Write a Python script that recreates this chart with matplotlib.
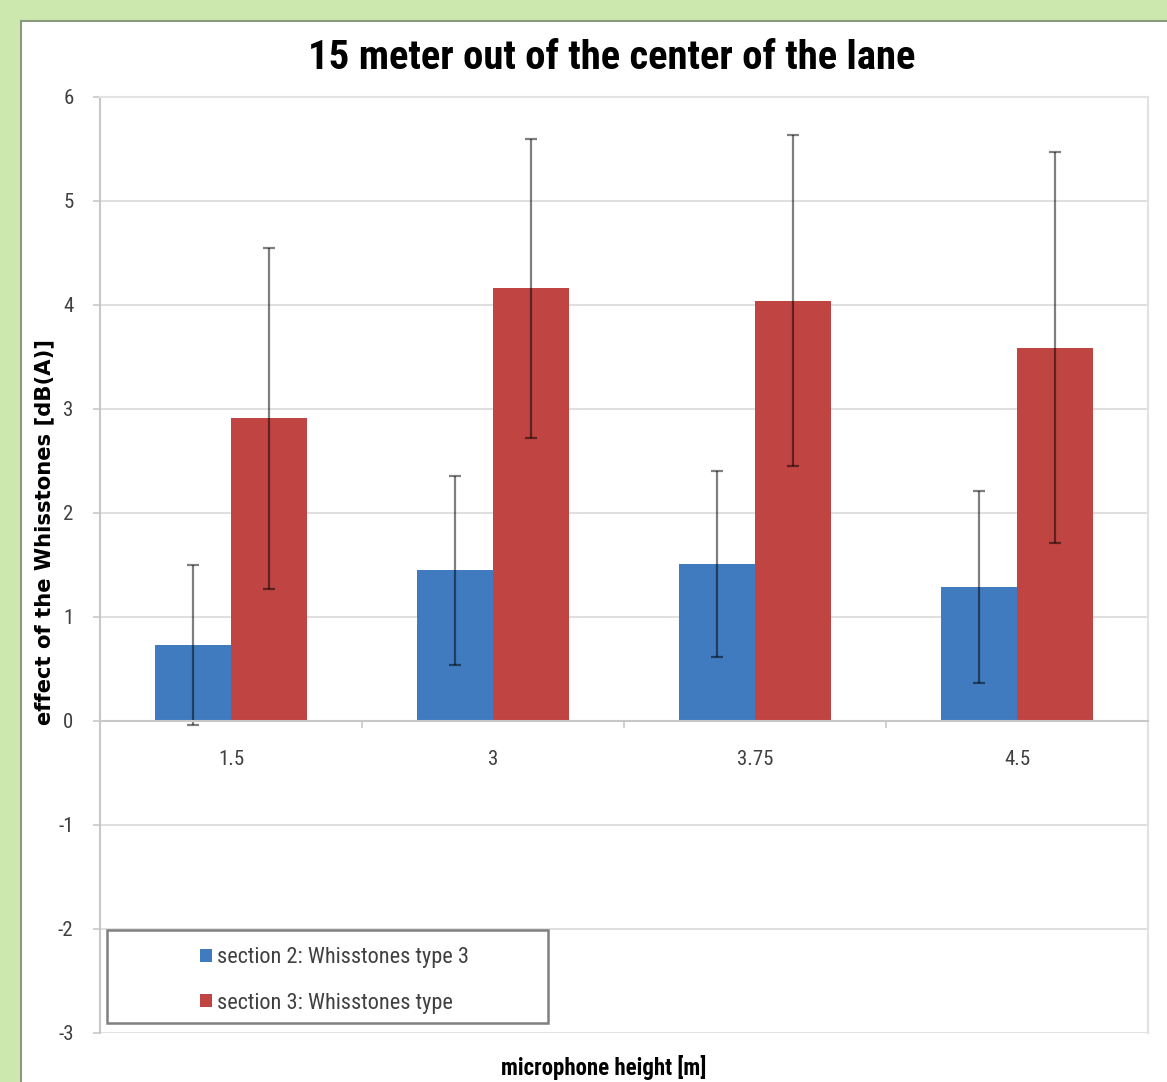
import numpy as np
import matplotlib
matplotlib.use("Agg")
import matplotlib.pyplot as plt
from matplotlib import font_manager
from matplotlib.patches import Rectangle

# data
heights = ["1.5", "3", "3.75", "4.5"]
sec2_vals = [0.73, 1.45, 1.51, 1.29]
sec2_err = [0.77, 0.91, 0.89, 0.92]
sec3_vals = [2.91, 4.16, 4.04, 3.59]
sec3_err = [1.64, 1.44, 1.59, 1.88]
series_names = ["section 2: Whisstones type 3", "section 3: Whisstones type"]
yticks = [-3, -2, -1, 0, 1, 2, 3, 4, 5, 6]

BLUE = "#3F7BBE"
RED = "#C04442"
GRID = "#DADADA"
TXT = "#404040"


def pick_font(cands):
    for c in cands:
        try:
            font_manager.findfont(c, fallback_to_default=False)
            return c
        except ValueError:
            continue
    return "DejaVu Sans"


NARROW = pick_font(["Liberation Sans Narrow", "Roboto Condensed", "Open Sans Condensed",
                    "Noto Sans Condensed", "DejaVu Sans Condensed", "Liberation Sans"])
plt.rcParams["font.family"] = [NARROW, "DejaVu Sans"]

W, H = 1167, 1082
fig = plt.figure(figsize=(W / 100, H / 100), dpi=100)
fig.patch.set_facecolor("#CDE8AE")

# white chart panel, behind the axes
panel = Rectangle((21 / W, -0.01), 1.1, (H - 21) / H + 0.01,
                  transform=fig.transFigure, facecolor="white",
                  edgecolor="#8A9A80", linewidth=1.5, zorder=-10)
fig.add_artist(panel)

ax = fig.add_axes([100 / W, (H - 1033) / H, 1048 / W, 936 / H])
ax.set_facecolor("white")

x = np.arange(len(heights))
bw = 0.29
ekw = dict(ecolor="black", elinewidth=1.6, capsize=4, capthick=1.6, alpha=0.5)
ax.bar(x - bw / 2, sec2_vals, bw, color=BLUE, label=series_names[0], zorder=3)
ax.bar(x + bw / 2, sec3_vals, bw, color=RED, label=series_names[1], zorder=3)
ax.errorbar(x - bw / 2, sec2_vals, yerr=sec2_err, fmt="none", zorder=4, **ekw)
ax.errorbar(x + bw / 2, sec3_vals, yerr=sec3_err, fmt="none", zorder=4, **ekw)

ax.set_xlim(-0.5, len(heights) - 0.5)
ax.set_ylim(-3, 6)
ax.set_yticks(yticks)
ax.set_yticklabels([str(v) for v in yticks])
ax.yaxis.grid(True, color=GRID, linewidth=1.2, zorder=0)
ax.set_axisbelow(True)

# category axis sits on the zero line
ax.spines["bottom"].set_position(("data", 0))
ax.spines["bottom"].set_color("#C8C8C8")
ax.spines["bottom"].set_linewidth(1.5)
ax.spines["bottom"].set_zorder(5)
ax.spines["left"].set_color("#C8C8C8")
ax.spines["left"].set_linewidth(1.5)
for s in ["top", "right"]:
    ax.spines[s].set_color("#E2E2E2")
    ax.spines[s].set_linewidth(1.5)
ax.axhline(-3, color="#E2E2E2", linewidth=2, zorder=1)

ax.set_xticks(x)
ax.set_xticklabels(heights)
ax.set_xticks(np.arange(len(heights) + 1) - 0.5, minor=True)
ax.tick_params(axis="x", which="major", length=0, pad=21, labelsize=15, labelcolor=TXT)
ax.tick_params(axis="x", which="minor", length=5, color="#C8C8C8", width=1.2)
ax.tick_params(axis="y", length=5, color="#C8C8C8", width=1.2, pad=14,
               labelsize=15, labelcolor=TXT)

fig.text(612 / W, 1 - 58 / H, "15 meter out of the center of the lane",
         ha="center", va="center", fontsize=29.3, fontweight="bold", color="black")
fig.text(44 / W, 1 - 532 / H, "effect of the Whisstones [dB(A)]", rotation=90,
         ha="center", va="center", fontsize=15.2, fontweight="bold", color="black",
         family=["DejaVu Sans"])
fig.text(604 / W, 1 - 1068 / H, "microphone height [m]",
         ha="center", va="center", fontsize=16.5, fontweight="bold", color="black")

# legend box
box = Rectangle((107 / W, 1 - 1023 / H), 441 / W, 93 / H,
                transform=fig.transFigure, facecolor="white",
                edgecolor="#808080", linewidth=1.8, zorder=5)
fig.add_artist(box)
leg = fig.legend(loc="upper left", bbox_to_anchor=(189 / W, 1 - 936 / H),
                 frameon=False, fontsize=16,
                 handlelength=0.55, handleheight=0.55, handletextpad=0.2,
                 labelspacing=1.1, borderpad=0)
leg.set_zorder(6)
for t in leg.get_texts():
    t.set_color(TXT)

fig.savefig("out.png", dpi=100, facecolor=fig.get_facecolor())
